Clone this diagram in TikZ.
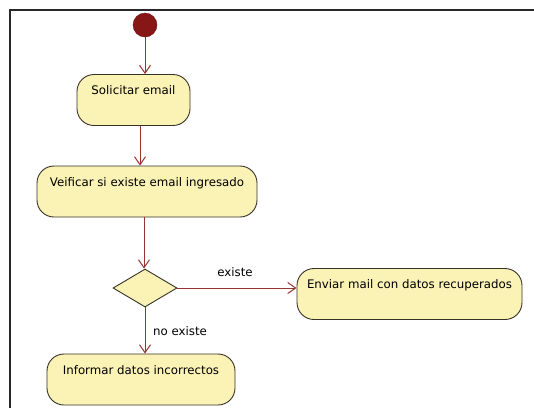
\documentclass[tikz,border=0pt]{standalone}
\usepackage{fontspec}
\setmainfont{DejaVu Sans}
\usetikzlibrary{arrows.meta,shapes.geometric}
\definecolor{linec}{RGB}{150,52,48}
\definecolor{nodefill}{RGB}{251,243,182}
\definecolor{nodeline}{RGB}{55,50,40}
\definecolor{startc}{RGB}{135,22,22}
\definecolor{framec}{RGB}{40,40,40}
\tikzset{
  act/.style={draw=nodeline, fill=nodefill, line width=0.9pt, rounded corners=17pt,
    inner sep=0pt, text height=20pt, text depth=31pt, font=\fontsize{11.8}{13}\selectfont},
  flow/.style={draw=linec, line width=1pt, -{Straight Barb[length=8pt,width=11pt]}},
  lbl/.style={font=\fontsize{11.8}{13}\selectfont, inner sep=0pt}
}
\begin{document}
\begin{tikzpicture}[x=1pt,y=-1pt]
\useasboundingbox (0,0) rectangle (534,408);
\fill[white] (0,0) rectangle (534,408);
\draw[framec, line width=2pt] (10,408) -- (10,10) -- (534,10);
\node[circle, fill=startc, draw=startc!80!black, minimum size=24pt, inner sep=0pt] (start) at (145,25) {};
\node[act, minimum width=113pt] (sol) at (133.5,100) {Solicitar email};
\node[act, minimum width=220pt] (ver) at (147,191.5) {Veificar si existe email ingresado};
\node[diamond, draw=nodeline, fill=nodefill, line width=0.9pt, minimum width=64pt, minimum height=38pt, inner sep=0pt] (dia) at (145,288) {};
\node[act, minimum width=225pt] (env) at (409.5,294) {Enviar mail con datos recuperados};
\node[act, minimum width=188pt] (inf) at (141,379.5) {Informar datos incorrectos};
\draw[flow] (start.south) -- (start.south |- sol.north);
\draw[flow] ([xshift=6.5pt]sol.south) -- ([xshift=6.5pt]sol.south |- ver.north);
\draw[flow] ([xshift=-3pt]ver.south) -- ([xshift=-3pt]ver.south |- dia.north);
\draw[flow] (dia.east) -- (dia.east -| env.west);
\draw[flow] (dia.south) -- (dia.south |- inf.north);
\node[lbl] (lex) at (235,272) {existe};
\node[lbl] (lnoex) at (180,331) {no existe};
\end{tikzpicture}
\end{document}
